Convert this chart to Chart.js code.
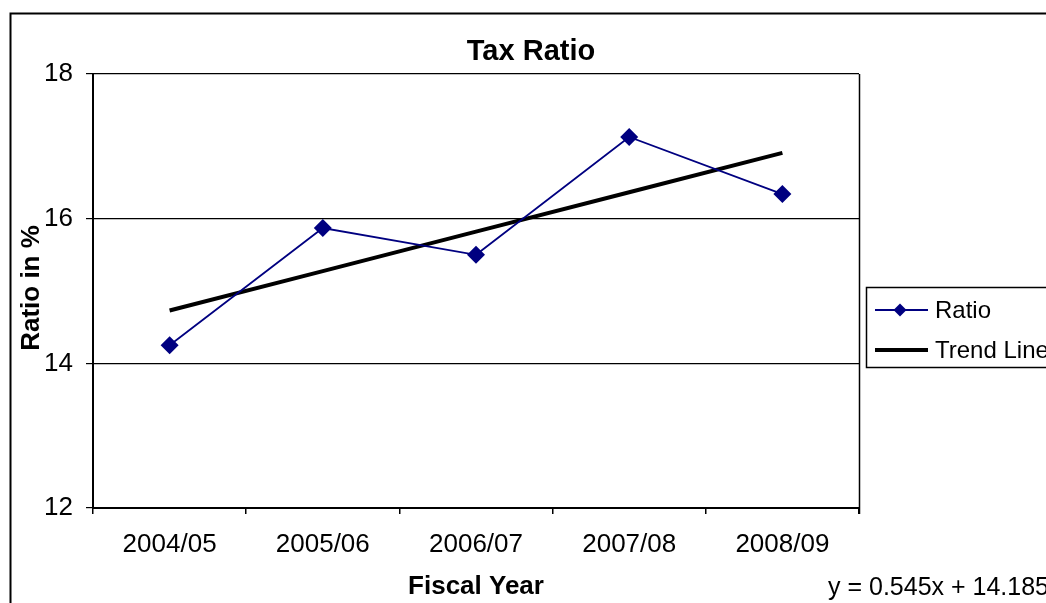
<!DOCTYPE html>
<html>
<head>
<meta charset="utf-8">
<script src="https://cdn.jsdelivr.net/npm/chart.js@4"></script>
<style>
  body { margin: 0; background: #fff; }
  canvas { display: block; }
</style>
</head>
<body>
<canvas id="myChart" width="1046" height="603"></canvas>
<script>
const years = ['2004/05', '2005/06', '2006/07', '2007/08', '2008/09'];
const ratio = [14.25, 15.87, 15.5, 17.13, 16.34];
// trend line (y = 0.545x + 14.185)
const trend = [14.73, 15.275, 15.82, 16.365, 16.91];
const yTicks = [12, 14, 16, 18];

const FONT = '"Liberation Sans", Arial, sans-serif';
const navy = '#000080';

// title, axis titles, legend box, equation and outer frame
const extras = {
    id: 'extras',
    afterDraw(chart) {
        const c = chart.ctx;
        const a = chart.chartArea;
        c.save();
        c.strokeStyle = '#000';

        // outer chart frame (runs off the right/bottom edge)
        c.lineWidth = 2;
        c.strokeRect(10.5, 13.5, 1100, 700);

        // plot area right edge
        c.lineWidth = 1.5;
        c.beginPath();
        c.moveTo(Math.round(a.right) + 0.5, a.top);
        c.lineTo(Math.round(a.right) + 0.5, a.bottom + 6);
        c.stroke();

        c.fillStyle = '#000';
        c.textAlign = 'center';
        c.textBaseline = 'middle';
        c.font = 'bold 29px ' + FONT;
        c.fillText('Tax Ratio', 531, 52);

        c.font = 'bold 26px ' + FONT;
        c.fillText('Fiscal Year', 476, 587);

        c.save();
        c.translate(32, 288);
        c.rotate(-Math.PI / 2);
        c.fillText('Ratio in %', 0, 0);
        c.restore();

        c.textAlign = 'left';
        c.font = '25px ' + FONT;
        c.fillText('y = 0.545x + 14.185', 828, 588);

        // legend
        c.lineWidth = 1.5;
        c.strokeRect(866.5, 287.5, 300, 80);
        c.font = '24px ' + FONT;
        c.strokeStyle = navy;
        c.lineWidth = 1.8;
        c.beginPath();
        c.moveTo(875, 310);
        c.lineTo(928, 310);
        c.stroke();
        c.fillStyle = navy;
        c.beginPath();
        c.moveTo(900, 303.5);
        c.lineTo(906.5, 310);
        c.lineTo(900, 316.5);
        c.lineTo(893.5, 310);
        c.closePath();
        c.fill();
        c.strokeStyle = '#000';
        c.lineWidth = 4;
        c.beginPath();
        c.moveTo(875, 350);
        c.lineTo(928, 350);
        c.stroke();
        c.fillStyle = '#000';
        c.fillText('Ratio', 935, 311);
        c.fillText('Trend Line', 935, 351);
        c.restore();
    }
};

const ctx = document.getElementById('myChart').getContext('2d');

const myChart = new Chart(ctx, {
    type: 'line',
    data: {
        labels: years,
        datasets: [{
            label: 'Ratio',
            data: ratio,
            borderColor: navy,
            backgroundColor: navy,
            borderWidth: 1.8,
            pointStyle: 'rectRot',
            pointRadius: 9,
            pointHoverRadius: 9,
            pointBorderWidth: 0,
            tension: 0
        }, {
            label: 'Trend Line',
            data: trend,
            borderColor: '#000',
            borderWidth: 4,
            pointRadius: 0,
            tension: 0
        }]
    },
    options: {
        responsive: false,
        animation: false,
        events: [],
        layout: {
            padding: { left: 0, top: 74, right: 187, bottom: 0 }
        },
        plugins: {
            legend: { display: false },
            title: { display: false },
            tooltip: { enabled: false }
        },
        scales: {
            x: {
                offset: true,
                grid: {
                    offset: true,
                    drawOnChartArea: false,
                    color: '#000',
                    lineWidth: 1.5,
                    tickLength: 6
                },
                border: { color: '#000', width: 2 },
                ticks: {
                    color: '#000',
                    font: { family: FONT, size: 26 },
                    padding: 15,
                    maxRotation: 0
                },
                afterFit(scale) { scale.height = 95; }
            },
            y: {
                min: 12,
                max: 18,
                afterBuildTicks(scale) {
                    scale.ticks = yTicks.map(v => ({ value: v }));
                },
                grid: {
                    color: '#000',
                    lineWidth: 1.2,
                    tickLength: 7
                },
                border: { color: '#000', width: 2 },
                ticks: {
                    color: '#000',
                    font: { family: FONT, size: 26 },
                    padding: 13
                },
                afterFit(scale) { scale.width = 93; }
            }
        }
    },
    plugins: [extras]
});
</script>
</body>
</html>
